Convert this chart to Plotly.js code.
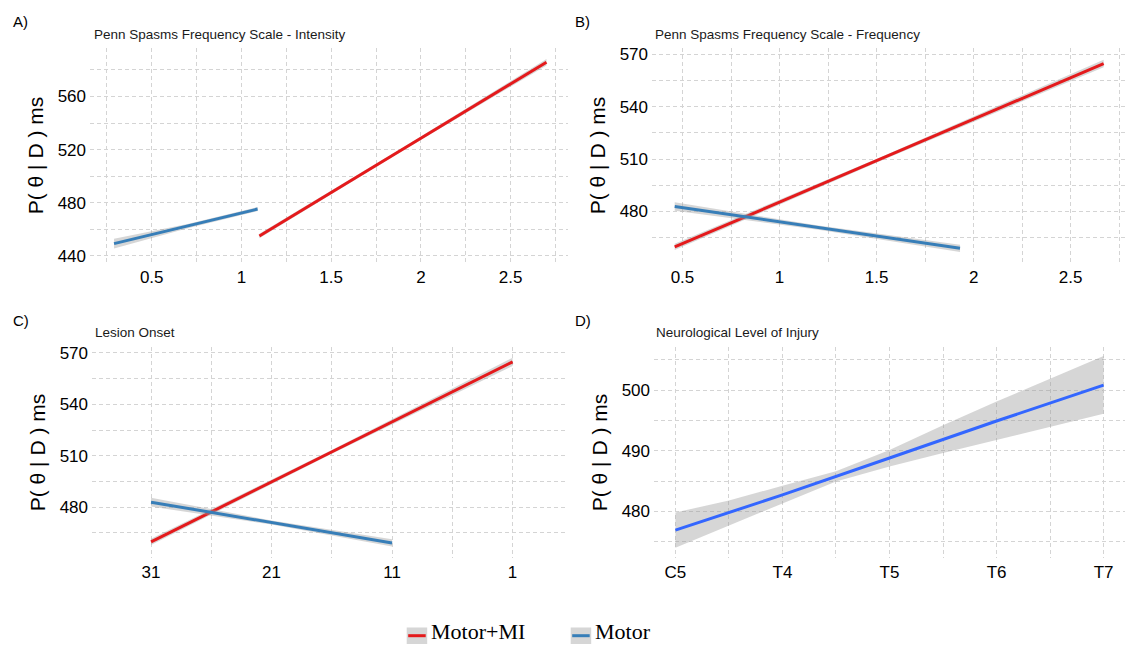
<!DOCTYPE html>
<html>
<head>
<meta charset="utf-8">
<script src="https://cdn.plot.ly/plotly-3.0.1.min.js"></script>
<style>html,body{margin:0;padding:0;background:#fff;}#chart{width:1126px;height:645px;}</style>
</head>
<body>
<div id="chart"></div>
<script>
// ---------------- DATA ----------------
const groups = ["Motor+MI", "Motor"];
const panelLetters = ["A)", "B)", "C)", "D)"];
const panelTitles = [
  "Penn Spasms Frequency Scale - Intensity",
  "Penn Spasms Frequency Scale - Frequency",
  "Lesion Onset",
  "Neurological Level of Injury"
];
const yTitle = "P( \u03b8 | D ) ms";

// Panel A – Intensity
const aMI_x = [1.10, 1.90, 2.70];
const aMI_y = [455.0, 520.5, 585.8];
const aMI_lo = [453.3, 519.4, 583.4];
const aMI_hi = [456.7, 521.6, 588.2];
const aM_x = [0.29, 0.70, 1.09];
const aM_y = [449.3, 462.5, 475.3];
const aM_lo = [445.6, 460.9, 473.8];
const aM_hi = [452.9, 464.1, 476.8];

// Panel B – Frequency
const bMI_x = [0.46, 1.55, 2.67];
const bMI_y = [459.7, 511.5, 564.8];
const bMI_lo = [457.9, 510.4, 562.6];
const bMI_hi = [461.5, 512.6, 567.0];
const bM_x = [0.46, 1.20, 1.93];
const bM_y = [482.9, 470.8, 458.9];
const bM_lo = [480.5, 469.6, 456.8];
const bM_hi = [485.3, 472.0, 461.0];

// Panel C – Lesion onset
const cMI_x = [31, 16, 1];
const cMI_y = [459.7, 512.3, 564.8];
const cMI_lo = [457.9, 511.2, 562.4];
const cMI_hi = [461.5, 513.4, 567.2];
const cM_x = [31, 21, 11];
const cM_y = [482.9, 471.0, 459.1];
const cM_lo = [480.3, 469.8, 457.0];
const cM_hi = [485.5, 472.2, 461.2];

// Panel D – Neurological level of injury
const dLevels = ["C5", "T4", "T5", "T6", "T7"];
const dLine_x = [0, 1, 2, 3, 4];
const dLine_y = [476.9, 482.7, 488.8, 494.9, 500.8];
const dRib_x = [0, 0.5, 1, 1.5, 2, 2.5, 3, 3.5, 4];
const dRib_lo = [474.0, 477.7, 481.3, 484.9, 487.4, 489.6, 491.8, 494.0, 496.1];
const dRib_hi = [479.8, 481.8, 484.2, 486.6, 490.1, 494.2, 498.1, 501.9, 505.6];

// ---------------- STYLE ----------------
const W = 1126, H = 645;
const RED = "#E41A1C", BLUE = "#377EB8", SMOOTH_BLUE = "#3366FF";
const RIB = "rgba(153,153,153,0.4)";
const GRID = "rgb(212,212,212)";
const px = v => v / W;
const py = v => 1 - v / H;

const traces = [];
function ribbon(x, lo, hi, xa, ya) {
  traces.push({x: x, y: lo, xaxis: xa, yaxis: ya, mode: "lines", line: {width: 0, color: RIB},
    showlegend: false, hoverinfo: "skip"});
  traces.push({x: x, y: hi, xaxis: xa, yaxis: ya, mode: "lines", line: {width: 0, color: RIB},
    fill: "tonexty", fillcolor: RIB, showlegend: false, hoverinfo: "skip"});
}
function line(x, y, color, name, xa, ya) {
  traces.push({x: x, y: y, xaxis: xa, yaxis: ya, mode: "lines", line: {width: 3, color: color},
    name: name, showlegend: false});
}
// A
ribbon(aMI_x, aMI_lo, aMI_hi, "x", "y"); line(aMI_x, aMI_y, RED, groups[0], "x", "y");
ribbon(aM_x, aM_lo, aM_hi, "x", "y"); line(aM_x, aM_y, BLUE, groups[1], "x", "y");
// B
ribbon(bMI_x, bMI_lo, bMI_hi, "x2", "y2"); line(bMI_x, bMI_y, RED, groups[0], "x2", "y2");
ribbon(bM_x, bM_lo, bM_hi, "x2", "y2"); line(bM_x, bM_y, BLUE, groups[1], "x2", "y2");
// C
ribbon(cMI_x, cMI_lo, cMI_hi, "x3", "y3"); line(cMI_x, cMI_y, RED, groups[0], "x3", "y3");
ribbon(cM_x, cM_lo, cM_hi, "x3", "y3"); line(cM_x, cM_y, BLUE, groups[1], "x3", "y3");
// D
ribbon(dRib_x, dRib_lo, dRib_hi, "x4", "y4"); line(dLine_x, dLine_y, SMOOTH_BLUE, "NLI", "x4", "y4");

const tickFont = {family: "Liberation Sans, Arial, sans-serif", size: 17, color: "#000"};
function xAxis(domain, range, extra) {
  return Object.assign({
    domain: domain, range: range, showline: false, zeroline: false, ticks: "",
    showgrid: true, gridcolor: GRID, gridwidth: 1, griddash: "4px,3px",
    tickfont: tickFont, ticklabelstandoff: 2,
  }, extra);
}
function yAxis(domain, range, anchor, extra) {
  return Object.assign({
    domain: domain, range: range, anchor: anchor, showline: false, zeroline: false, ticks: "",
    showgrid: true, gridcolor: GRID, gridwidth: 1, griddash: "4px,3px",
    tickfont: tickFont, ticklabelstandoff: 3,
    title: {text: yTitle, font: {family: "Liberation Sans, Arial, sans-serif", size: 21, color: "#000"}, standoff: 8},
  }, extra);
}
const minor = dt => ({dtick: dt, showgrid: true, gridcolor: GRID, gridwidth: 1, griddash: "4px,3px", ticks: ""});

const topY = [py(263), py(48)];
const botY = [py(558), py(347)];

const layout = {
  width: W, height: H,
  margin: {l: 0, r: 0, t: 0, b: 0},
  paper_bgcolor: "#fff", plot_bgcolor: "#fff",
  showlegend: false,
  xaxis: xAxis([px(90), px(568)], [0.156, 2.82], {anchor: "y", tick0: 0, dtick: 0.5, minor: minor(0.25)}),
  yaxis: yAxis(topY, [434.7, 596.5], "x", {tick0: 0, dtick: 40, minor: minor(20)}),
  xaxis2: xAxis([px(652), px(1125)], [0.343, 2.78], {anchor: "y2", tick0: 0, dtick: 0.5, minor: minor(0.25)}),
  yaxis2: yAxis(topY, [450.5, 573.7], "x2", {tick0: 0, dtick: 30, minor: minor(15)}),
  xaxis3: xAxis([px(92), px(568)], [35.9, -3.6], {anchor: "y3", tick0: 1, dtick: 10, minor: Object.assign(minor(5), {tick0: 1})}),
  yaxis3: yAxis(botY, [450.3, 573.5], "x3", {tick0: 0, dtick: 30, minor: minor(15)}),
  xaxis4: xAxis([px(654), px(1125)], [-0.2, 4.2], {anchor: "y4", tickmode: "array", tickvals: dLine_x, ticktext: dLevels, minor: Object.assign(minor(0.5), {tick0: 0})}),
  yaxis4: yAxis(botY, [472.3, 507.1], "x4", {tick0: 0, dtick: 10, minor: minor(5)}),
  annotations: [],
  shapes: []
};

const letterPos = [[11, 22], [573, 22], [11, 320], [573, 320]];
const titlePos = [[92, 34], [653, 34], [93, 332], [654, 332]];
panelLetters.forEach((t, i) => {
  layout.annotations.push({text: t, xref: "paper", yref: "paper", x: px(letterPos[i][0]), y: py(letterPos[i][1]),
    xanchor: "left", yanchor: "middle", showarrow: false,
    font: {family: "Liberation Sans, Arial, sans-serif", size: 15, color: "#000"}});
});
panelTitles.forEach((t, i) => {
  layout.annotations.push({text: t, xref: "paper", yref: "paper", x: px(titlePos[i][0]), y: py(titlePos[i][1]),
    xanchor: "left", yanchor: "middle", showarrow: false,
    font: {family: "Liberation Sans, Arial, sans-serif", size: 13.5, color: "#1a1a1a"}});
});

// manual legend (grey key with coloured line, serif text)
const legKeys = [[406.7, RED], [570.7, BLUE]];
legKeys.forEach((k, i) => {
  const x0 = k[0];
  layout.shapes.push({type: "rect", xref: "paper", yref: "paper", x0: px(x0), x1: px(x0 + 20.5),
    y0: py(644), y1: py(627.5), fillcolor: RIB, line: {width: 0}, layer: "above"});
  layout.shapes.push({type: "line", xref: "paper", yref: "paper", x0: px(x0 + 1.5), x1: px(x0 + 19),
    y0: py(635.7), y1: py(635.7), line: {width: 3, color: k[1]}, layer: "above"});
  layout.annotations.push({text: groups[i], xref: "paper", yref: "paper", x: px(x0 + 23), y: py(644.5),
    xanchor: "left", yanchor: "bottom", borderpad: 0, showarrow: false,
    font: {family: "Liberation Serif, Times New Roman, serif", size: 22, color: "#000"}});
});

Plotly.newPlot("chart", traces, layout, {displayModeBar: false, staticPlot: true});
</script>
</body>
</html>
